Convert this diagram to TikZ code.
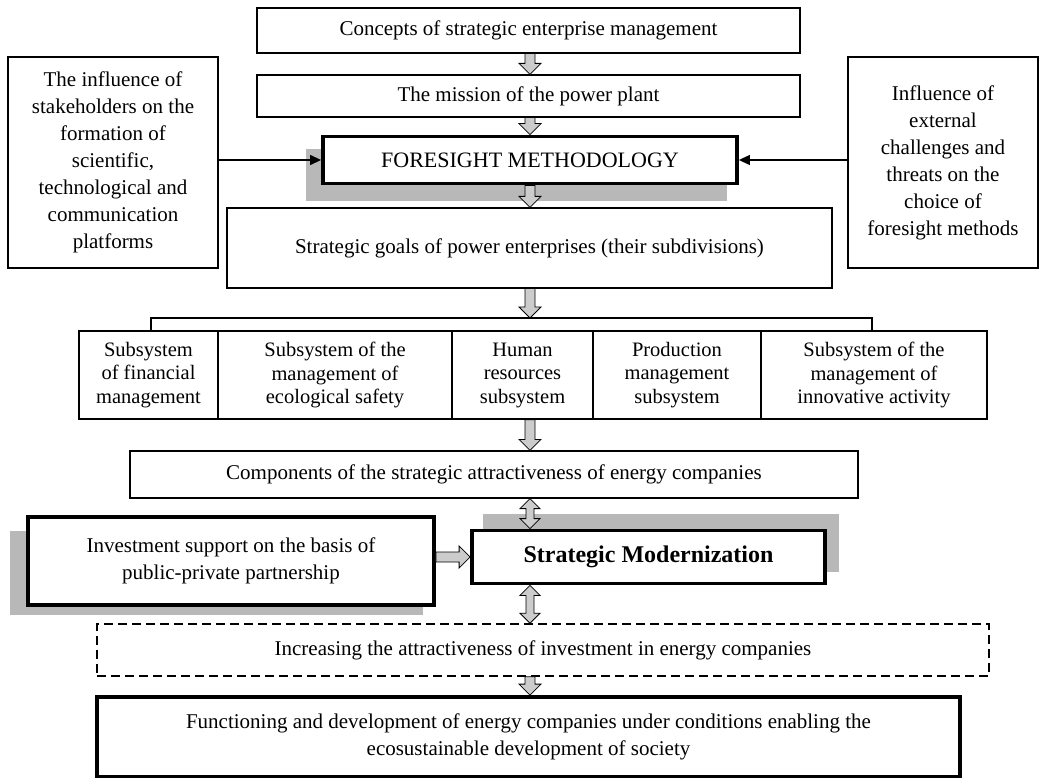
\documentclass[tikz,border=0pt]{standalone}
\usepackage{fontspec}
\setmainfont{Liberation Serif}
\usetikzlibrary{arrows.meta,calc,backgrounds}

\tikzset{
  box/.style={draw, fill=white, line width=1.2pt, align=center, inner sep=2pt,
    font=\fontsize{21}{27}\selectfont},
  cellbox/.style={box, minimum height=88pt, font=\fontsize{20.5}{23.5}\selectfont},
  boldbox/.style={box, line width=3.8pt},
  dashbox/.style={box, line width=1.6pt, dash pattern=on 9pt off 5pt},
  shadowfill/.style={fill=black!28},
  blockarr/.style={draw, line width=0.8pt, fill=black!20},
  sidearr/.style={line width=1.2pt, -{Triangle[length=11pt,width=10pt]}}
}

% hollow block arrows between two points
\newcommand{\dnarrow}[2]{\draw[blockarr] let \p1=(#1), \p2=(#2) in
  (\x1-5pt,\y1) -- (\x1+5pt,\y1) -- (\x1+5pt,\y2+11pt) -- (\x1+11pt,\y2+11pt)
  -- (\x1,\y2) -- (\x1-11pt,\y2+11pt) -- (\x1-5pt,\y2+11pt) -- cycle;}
\newcommand{\dblarrow}[2]{\draw[blockarr] let \p1=(#1), \p2=(#2) in
  (\x1,\y1) -- (\x1+10pt,\y1-10pt) -- (\x1+4pt,\y1-10pt) -- (\x1+4pt,\y2+10pt)
  -- (\x1+10pt,\y2+10pt) -- (\x1,\y2) -- (\x1-10pt,\y2+10pt) -- (\x1-4pt,\y2+10pt)
  -- (\x1-4pt,\y1-10pt) -- (\x1-10pt,\y1-10pt) -- cycle;}
\newcommand{\rtarrow}[2]{\draw[blockarr] let \p1=(#1), \p2=(#2) in
  (\x1,\y1+5pt) -- (\x2-11pt,\y1+5pt) -- (\x2-11pt,\y1+11pt) -- (\x2,\y1)
  -- (\x2-11pt,\y1-11pt) -- (\x2-11pt,\y1-5pt) -- (\x1,\y1-5pt) -- cycle;}

\begin{document}
\begin{tikzpicture}[x=1pt, y=-1pt]
  \useasboundingbox (0,0) rectangle (1045,778);

  \node[box, minimum width=543pt, minimum height=45pt] (concepts) at (528.5,30.5)
    {Concepts of strategic enterprise management};
  \node[box, minimum width=543pt, minimum height=42pt] (mission) at (528.5,96)
    {The mission of the power plant};
  \node[boldbox, minimum width=414pt, minimum height=47pt,
    font=\fontsize{22}{27}\selectfont] (fore) at (530,160)
    {FORESIGHT METHODOLOGY};

  \node[box, minimum width=210pt, minimum height=211pt] (stake) at (113,162.5)
    {The influence of\\stakeholders on the\\formation of\\scientific,\\technological and\\communication\\platforms};
  \node[box, minimum width=190pt, minimum height=211pt] (threat) at (943,162.5)
    {Influence of\\external\\challenges and\\threats on the\\choice of\\foresight methods};

  \node[box, minimum width=605pt, minimum height=80pt] (goals) at (529.5,248)
    {Strategic goals of power enterprises (their subdivisions)};

  \node[cellbox, minimum width=139pt] (finance) at (148.5,375)
    {Subsystem\\of financial\\management};
  \node[cellbox, minimum width=234pt] (ecology) at (335,375)
    {Subsystem of the\\management of\\ecological safety};
  \node[cellbox, minimum width=141pt] (human) at (522.5,375)
    {Human\\resources\\subsystem};
  \node[cellbox, minimum width=168pt] (product) at (677,375)
    {Production\\management\\subsystem};
  \node[cellbox, minimum width=226pt] (innov) at (874,375)
    {Subsystem of the\\management of\\innovative activity};

  \node[box, minimum width=728pt, minimum height=47pt] (compon) at (494,474.5)
    {Components of the strategic attractiveness of energy companies};
  \node[boldbox, minimum width=406pt, minimum height=88pt] (invest) at (231,561)
    {Investment support on the basis of\\public-private partnership};
  \node[boldbox, minimum width=353pt, minimum height=53pt,
    font=\fontsize{24}{28}\selectfont\bfseries] (modern) at (648.5,557)
    {Strategic Modernization};
  \node[dashbox, minimum width=892pt, minimum height=52pt] (increase) at (543,650)
    {Increasing the attractiveness of investment in energy companies};
  \node[boldbox, minimum width=863pt, minimum height=80pt] (final) at (528.5,737)
    {Functioning and development of energy companies under conditions enabling the\\ecosustainable development of society};

  \begin{scope}[on background layer]
    \fill[shadowfill] ([shift={(-15,14)}]fore.north west) rectangle ([shift={(-12,16)}]fore.south east);
    \fill[shadowfill] ([shift={(-16,16)}]invest.north west) rectangle ([shift={(-13,8)}]invest.south east);
    \fill[shadowfill] ([shift={(13,-15)}]modern.north west) rectangle ([shift={(12,-13)}]modern.south east);
  \end{scope}

  \coordinate (ax) at (530,0);
  \coordinate (brl) at (151,318);
  \coordinate (brr) at (872,318);

  \draw[line width=1.2pt] (brl |- finance.north) -- (brl) -- (brr) -- (brr |- innov.north);

  \dnarrow{ax |- concepts.south}{ax |- mission.north}
  \dnarrow{ax |- mission.south}{ax |- fore.north}
  \dnarrow{ax |- fore.south}{ax |- goals.north}
  \dnarrow{ax |- goals.south}{ax |- brl}
  \dnarrow{ax |- human.south}{ax |- compon.north}
  \dblarrow{ax |- compon.south}{ax |- modern.north}
  \dblarrow{ax |- modern.south}{ax |- increase.north}
  \dnarrow{ax |- increase.south}{ax |- final.north}
  \rtarrow{invest.east |- modern.west}{modern.west}

  \draw[sidearr] (stake.east |- fore.west) -- (fore.west);
  \draw[sidearr] (threat.west |- fore.east) -- (fore.east);
\end{tikzpicture}
\end{document}
